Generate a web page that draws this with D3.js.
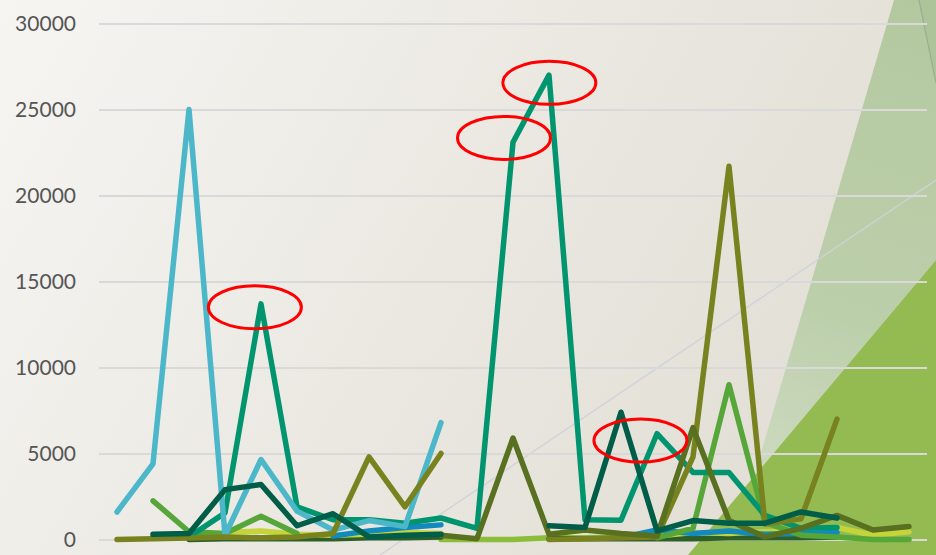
<!DOCTYPE html>
<html>
<head>
<meta charset="utf-8">
<script src="https://cdn.jsdelivr.net/npm/d3@7"></script>
<style>
  html, body { margin: 0; padding: 0; background: #f2f0ec; }
  svg { display: block; }
  .tick-label { font-family: Lato, "Open Sans", sans-serif; font-size: 21px; fill: #555555; }
</style>
</head>
<body>
<svg id="chart" width="936" height="555"></svg>
<script>
// Categories along the x axis (labels are not shown on the chart)
const categories = d3.range(1, 24).map(i => "P" + String(i).padStart(2, "0"));

// Y axis ticks
const yTicks = [0, 5000, 10000, 15000, 20000, 25000, 30000];

// Series values, one entry per category (null = no value)
const _ = null;
const lightBlue = [1600, 4400, 25000, 250, 4650, 1650, 550, 1100, 750, 6800, _, _, _, _, _, _, _, _, _, _, _, _, _];
const teal      = [_, 100, 150, 1550, 13700, 1900, 1150, 1150, 950, 1250, 650, 23100, 27000, 1150, 1120, 6150, 3900, 3900, 1400, 650, 700, _, _];
const darkTeal  = [_, 300, 350, 2900, 3200, 800, 1500, 150, 250, 300, _, _, 800, 700, 7400, 500, 1100, 950, 950, 1600, 1250, _, _];
const midGreen  = [_, 2250, 450, 350, 1350, 350, _, _, _, _, _, _, _, _, _, 100, 650, 9000, 1000, 250, 150, 0, 0];
const olive     = [0, 50, 80, 150, 100, 150, 350, 4800, 1900, 5000, _, _, 0, 50, 100, 150, 4800, 21700, 900, 1200, 7000, _, _];
const darkOlive = [_, _, _, _, _, _, _, _, _, 250, 50, 5900, 300, 550, 350, 200, 6500, 1100, 150, 650, 1400, 550, 750];
const yellow    = [_, _, _, 400, 500, 300, 250, 300, 400, 350, _, _, _, _, _, 200, 400, 350, 450, 500, 700, 250, 450];
const blue      = [_, _, _, _, _, _, 200, 500, 700, 850, _, _, _, _, 100, 550, 350, 500, 300, 350, 400, _, _];
const darkGreen = [_, _, 0, 50, 50, 50, 50, 100, 100, 150, _, _, 50, 50, 50, 50, 50, 100, 100, 100, 150, _, _];
const lime      = [_, _, _, _, _, _, _, _, _, 0, 0, 0, 100, 100, 150, 100, _, _, _, _, _, _, _];

// Drawing order (first is drawn underneath)
const seriesList = [
  { name: "lime", values: lime, color: "#8bbd3a" },
  { name: "darkGreen", values: darkGreen, color: "#2f5f29" },
  { name: "yellow", values: yellow, color: "#c4d43a" },
  { name: "blue", values: blue, color: "#128abd" },
  { name: "midGreen", values: midGreen, color: "#56a63a" },
  { name: "teal", values: teal, color: "#00956f" },
  { name: "lightBlue", values: lightBlue, color: "#4bb7c9" },
  { name: "olive", values: olive, color: "#788320" },
  { name: "darkOlive", values: darkOlive, color: "#5a7021" },
  { name: "darkTeal", values: darkTeal, color: "#005d48" }
];

// Highlight rings: centre given as category position (fractional index) and value
const highlights = [
  { at: 3.83, value: 13500 },
  { at: 12.01, value: 26550 },
  { at: 10.75, value: 23350 },
  { at: 14.54, value: 5750 }
];

const W = 936, H = 555;
const svg = d3.select("#chart");
const defs = svg.append("defs");

// Background: soft warm gradient
const bg = defs.append("linearGradient").attr("id", "bgGrad")
  .attr("gradientUnits", "userSpaceOnUse")
  .attr("x1", 0).attr("y1", 0).attr("x2", W).attr("y2", H);
bg.append("stop").attr("offset", "0").attr("stop-color", "#f6f5f2");
bg.append("stop").attr("offset", "0.55").attr("stop-color", "#e9e6df");
bg.append("stop").attr("offset", "1").attr("stop-color", "#dfdbd1");
svg.append("rect").attr("width", W).attr("height", H).attr("fill", "url(#bgGrad)");

// Decorative green panels in the lower right
const pale = defs.append("linearGradient").attr("id", "paleGrad")
  .attr("gradientUnits", "userSpaceOnUse")
  .attr("x1", 900).attr("y1", 0).attr("x2", 720).attr("y2", 555);
pale.append("stop").attr("offset", "0").attr("stop-color", "#b4c8a0");
pale.append("stop").attr("offset", "0.55").attr("stop-color", "#bccfab");
pale.append("stop").attr("offset", "1").attr("stop-color", "#d6dfcb");

svg.append("path")
  .attr("d", "M894,0 L936,0 L936,260 L688,555 L731,555 Z")
  .attr("fill", "url(#paleGrad)");
svg.append("path")
  .attr("d", "M919,0 L936,0 L936,83 Z")
  .attr("fill", "#adc39a");
svg.append("line")
  .attr("x1", 919).attr("y1", 0).attr("x2", 936).attr("y2", 83)
  .attr("stroke", "#98ae90").attr("stroke-width", 1.2);
svg.append("path")
  .attr("d", "M936,260 L688,555 L936,555 Z")
  .attr("fill", "#94ba52");

// Thin diagonal accent line
svg.append("line")
  .attr("x1", 380).attr("y1", 555).attr("x2", 936).attr("y2", 180)
  .attr("stroke", "#cfd3d8").attr("stroke-width", 1.5).attr("opacity", 0.9);

// Scales
const x = d3.scalePoint().domain(categories).range([99, 927]).padding(0.5);
const y = d3.scaleLinear().domain([0, 30000]).range([539.5, 23.5]);
const xAt = t => {
  const i = Math.floor(t), f = t - i;
  const a = x(categories[i]);
  return a + f * x.step();
};

// Gridlines
const yAxis = d3.axisLeft(y).tickValues(yTicks).tickSize(-(927 - 99)).tickFormat(d3.format("d"));
const gAxis = svg.append("g").attr("transform", "translate(99,0)").call(yAxis);
gAxis.select(".domain").remove();
gAxis.selectAll(".tick line").attr("stroke", "#d9d9d9").attr("stroke-width", 2);
gAxis.selectAll(".tick text")
  .attr("class", "tick-label")
  .attr("x", -23)
  .attr("dy", "0.35em");

// Series lines
const line = d3.line()
  .defined(d => d.v !== null)
  .x(d => x(d.c))
  .y(d => y(d.v));

svg.append("g").selectAll("path")
  .data(seriesList)
  .join("path")
  .attr("d", s => line(s.values.map((v, i) => ({ c: categories[i], v }))))
  .attr("fill", "none")
  .attr("stroke", s => s.color)
  .attr("stroke-width", 5.5)
  .attr("stroke-linejoin", "round")
  .attr("stroke-linecap", "round");

// Highlight rings
svg.append("g").selectAll("ellipse")
  .data(highlights)
  .join("ellipse")
  .attr("cx", d => xAt(d.at))
  .attr("cy", d => y(d.value))
  .attr("rx", 46.5)
  .attr("ry", 21.5)
  .attr("fill", "none")
  .attr("stroke", "#ff0000")
  .attr("stroke-width", 3);
</script>
</body>
</html>
